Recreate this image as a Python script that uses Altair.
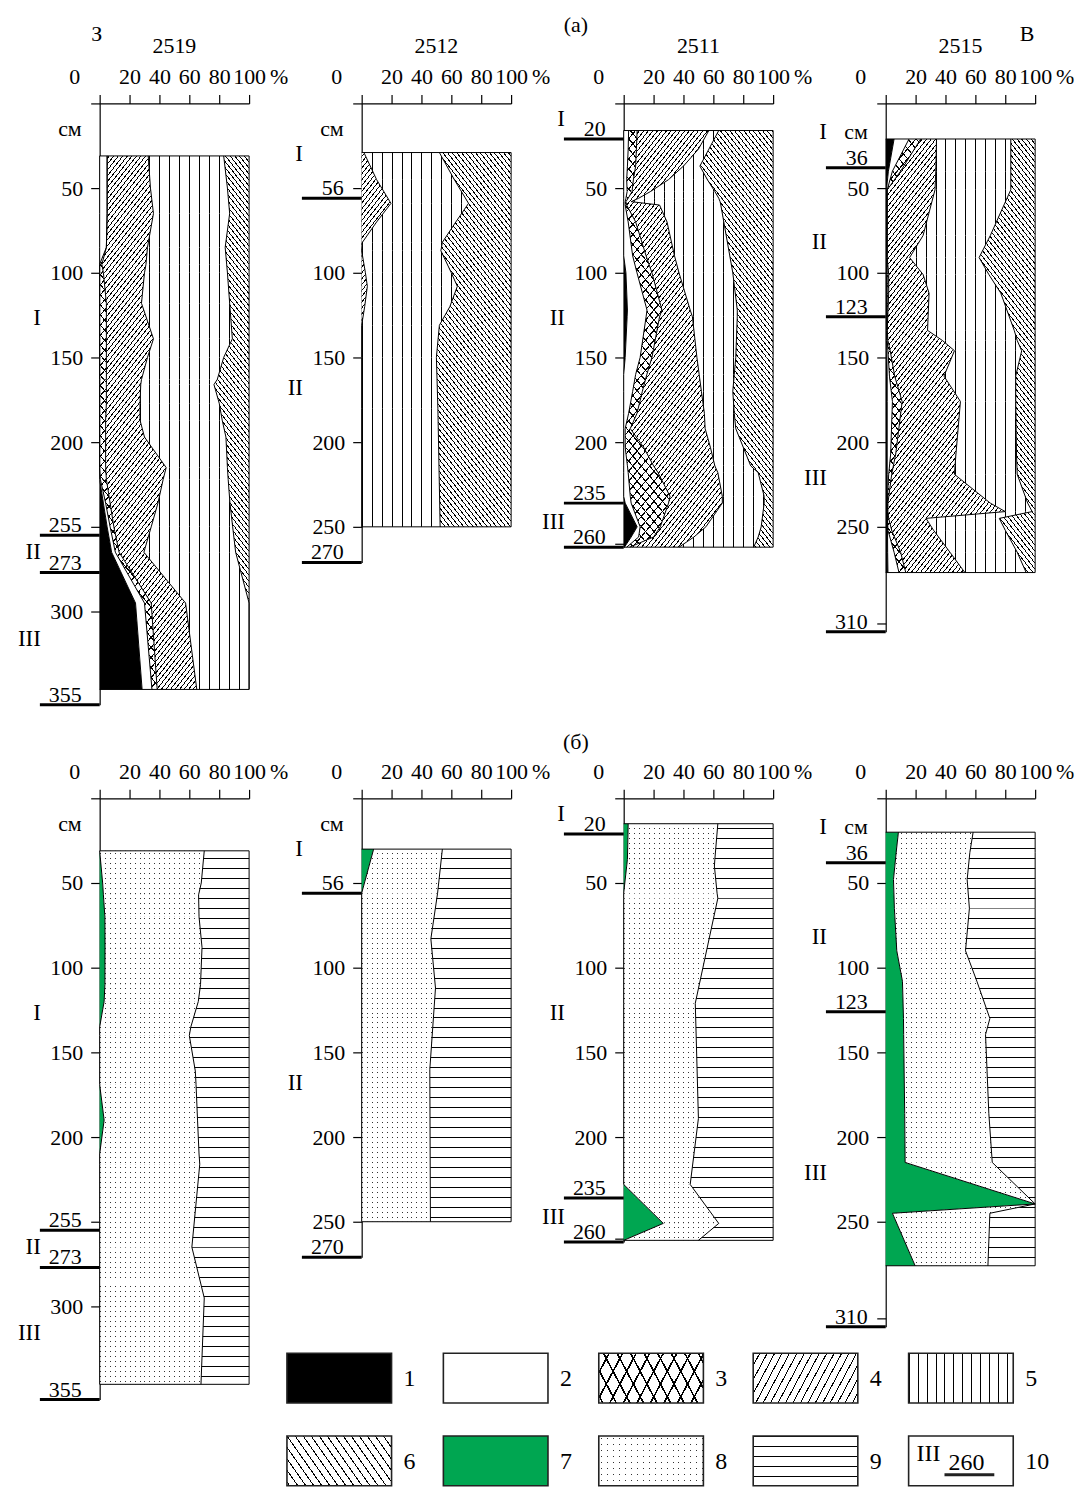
import math
import altair as alt
import pandas as pd

FONT = "Liberation Serif"
FS = 22
PXX = 1.5      # px per %
PXY = 1.7      # px per cm
PW = 150
GREEN = "#00a651"
CLEAR = "rgba(255,255,255,0)"

# ---------------- (а) cumulative boundaries of components 1..5 (% from left) ----------------
a2519_depth = [31, 50, 65, 85, 95, 100, 118, 139, 150, 163, 166, 177, 187, 197, 215, 222, 236, 250, 265, 295, 346]
a2519_b1 = [0, 0, 0, 0, 0, 0, 0, 0, 0, 0, 0, 0, 0, 0, 0, 0, 2.5, 5, 8, 24, 28.4]
a2519_b2 = [5, 5, 5, 4.5, 0, 0, 0, 0, 0, 0, 0, 0, 0, 0, 0, 0.5, 4, 7, 10.5, 30, 35]
a2519_b3 = [5, 5, 5, 4.5, 1.5, 2.5, 4.5, 4.5, 4.5, 4.5, 4.5, 4.5, 4, 4, 4, 4.5, 7, 9.5, 13, 34.5, 38.5]
a2519_b4 = [32.5, 34, 36, 32, 31, 30, 28, 36, 32, 28, 27.5, 27, 27, 30, 44.5, 42.5, 39, 34.5, 29.6, 57.5, 65]
a2519_b5 = [83, 85.5, 87, 84, 85, 85.5, 87, 88.8, 83, 78.7, 76.5, 80, 82, 84.5, 85.5, 86, 87.2, 89, 91, 100, 100]

a2512_depth = [29, 45, 59, 70, 82, 87, 100, 108, 120, 131, 150, 180, 250]
a2512_b1 = [0, 0, 0, 0, 0, 0, 0, 0, 0, 0, 0, 0, 0]
a2512_b2 = [0, 0, 0, 0, 0, 0, 0, 0, 0, 0, 0, 0, 0]
a2512_b3 = [0, 0, 0, 0, 0, 0, 0, 0, 0, 0, 0, 0, 0]
a2512_b4 = [1.5, 10, 19.6, 10, 0.5, 0, 2.5, 3.8, 2, 0, 0, 0, 0]
a2512_b5 = [52, 62, 71.5, 63, 54, 53, 60, 64, 59, 52, 50, 51, 52.5]

a2511_depth = [16, 27, 37, 45, 52, 56, 58, 60, 70, 90, 100, 122, 126, 150, 160, 170, 183, 192, 203, 214, 218, 232, 236, 250, 256, 262]
a2511_b1 = [0, 0, 0, 0, 0, 0, 0, 0, 0, 0, 1.5, 2.5, 2.3, 1, 0, 0, 0, 0, 0, 0, 0, 0, 1, 9, 5, 0.5]
a2511_b2 = [3.3, 3, 2.5, 2, 2.3, 1.5, 1, 1, 3, 6, 8.9, 15.6, 15, 11, 8, 6, 3.3, 1, 1, 2.5, 3, 4.4, 5, 11, 10, 2]
a2511_b3 = [9, 8.5, 8, 6.5, 5.6, 3, 1.5, 2, 8, 15, 18.9, 25.6, 24, 18.9, 15.5, 12.5, 8.9, 4.4, 13.3, 20, 23, 31, 30, 24.5, 20, 4]
a2511_b4 = [57, 50, 40, 30, 18, 10, 5, 24, 29, 34, 37, 44.5, 46, 49, 50.5, 52, 54, 54.5, 58, 61, 63, 66, 66, 55, 47, 37]
a2511_b5 = [63.6, 57, 51, 56, 61, 63.6, 64.5, 65, 67, 71, 73, 76, 76, 75, 74, 73, 74, 75, 80, 85, 90, 94, 94, 92, 90, 87]

a2515_depth = [21, 40, 51, 78, 91, 101, 112, 134, 140, 146, 161, 176, 207, 219, 236, 241, 245, 252, 265, 277]
a2515_b1 = [5.6, 1.8, 0.5, 0.5, 0.5, 0.5, 0.5, 0.5, 0.5, 0.7, 1, 1, 1, 1, 1, 1.2, 1.2, 1.2, 1.3, 1.5]
a2515_b2 = [15.6, 4.5, 1, 1, 1, 1, 1, 1, 1, 1.5, 2.5, 4.5, 3.3, 2, 1, 1, 1.2, 1.5, 5.6, 8.9]
a2515_b3 = [23.4, 10, 1, 1, 1, 2, 2, 1, 1.5, 3, 6, 11, 6.7, 4, 1.5, 1.5, 2, 4, 10, 13.4]
a2515_b4 = [34, 33.5, 33, 25, 16, 25, 29, 28, 38, 46, 39, 50, 47, 46, 70, 80, 27, 32, 43, 53]
a2515_b5 = [83.7, 83.7, 83.7, 70, 62.5, 69, 77, 86, 88, 91, 87, 87, 87.5, 88, 95, 98, 76, 80, 88, 94]

# ---------------- (б) cumulative boundaries of components 7, 8 ----------------
b2519_depth = [31, 50, 57, 70, 88, 110, 120, 135, 140, 161, 169, 190, 210, 216, 265, 295, 346]
b2519_b7 = [0, 2, 2.5, 3.5, 3.6, 3.5, 3, 0, 0, 0, 0, 3, 0, 0, 0, 0, 0]
b2519_b8 = [70, 68, 66.2, 66.5, 68.5, 67.5, 66, 61, 60, 64, 64.5, 65.5, 66.5, 67, 61.7, 70, 67.8]

b2512_depth = [30, 56, 83, 112, 160, 250]
b2512_b7 = [8, 0, 0, 0, 0, 0]
b2512_b8 = [54, 50.8, 46.3, 49.4, 45.6, 46]

b2511_depth = [15, 36, 40, 56, 59, 121, 189, 228, 251, 261]
b2511_b7 = [3, 2.5, 2, 0, 0, 0, 0, 0, 26.5, 0]
b2511_b8 = [63, 61, 60.7, 62.5, 63, 47.9, 50, 44.5, 63.6, 50]

b2515_depth = [20, 32, 48, 65, 90, 108, 130, 139.5, 186, 215, 239.5, 245, 276]
b2515_b7 = [8.5, 7, 5.2, 5.8, 7.4, 11.2, 11.9, 12, 12.7, 13, 100, 4.5, 19.7]
b2515_b8 = [58.5, 56.3, 54.5, 56, 53.4, 61, 69.7, 66.8, 69, 71.3, 100, 69.7, 68.4]

# ---------------- annotations ----------------
titles = ["2519", "2512", "2511", "2515"]
ymax = [355, 271, 262, 312]
yvals = [[0, 50, 100, 150, 200, 250, 300], [0, 50, 100, 150, 200, 250],
         [0, 50, 100, 150, 200, 260], [0, 50, 100, 150, 200, 250, 307]]
yhide = [[0, 250], [0, 50], [0, 260], [0, 307]]
marker_depth = [[255, 277, 355], [56, 271], [21, 236, 262], [38, 126, 312]]
marker_label = [["255", "273", "355"], ["56", "270"], ["20", "235", "260"], ["36", "123", "310"]]
hor_label = [["I", "II", "III"], ["I", "II"], ["I", "II", "III"], ["I", "II", "III"]]
hor_depth = [[127, 265, 316], [30, 168], [9, 127, 247], [17, 82, 221]]
cm_depth = [15, 15, None, 17]
legend_nums = ["1", "2", "3", "4", "5", "6", "7", "8", "9", "10"]

DUMMY = pd.DataFrame({"v": [0]})


def grad_stripes(bbox, ndeg, period, thick, fg, bg):
    bx, by, w, h = bbox
    a = math.radians(ndeg)
    nx = round(math.cos(a), 12)
    ny = round(math.sin(a), 12)
    corners = [(0.0, 0.0), (w, 0.0), (0.0, h), (w, h)]
    sv = [nx * cx + ny * cy for cx, cy in corners]
    i0 = min(range(4), key=lambda i: sv[i])
    smin, smax = sv[i0], max(sv)
    L = smax - smin
    den = nx * nx * w * w + ny * ny * h * h
    k = L / den
    cx, cy = corners[i0]
    x1 = cx / w if w > 0 else 0.0
    y1 = cy / h if h > 0 else 0.0
    x2 = x1 + k * nx * w
    y2 = y1 + k * ny * h
    base = nx * bx + ny * by
    stops = [(0.0, bg)]
    m = math.floor((smin + base) / period) - 1
    while True:
        s0 = m * period - base
        if s0 > smax:
            break
        s1 = s0 + thick
        o0 = min(max((s0 - smin) / L, 0.0), 1.0)
        o1 = min(max((s1 - smin) / L, 0.0), 1.0)
        if o1 > o0:
            stops += [(o0, bg), (o0, fg), (o1, fg), (o1, bg)]
        m += 1
    stops.append((1.0, bg))
    return {"gradient": "linear", "x1": round(x1, 7), "y1": round(y1, 7),
            "x2": round(x2, 7), "y2": round(y2, 7),
            "stops": [{"offset": round(o, 6), "color": c} for o, c in stops]}


PANEL_PAT = {
    1: ("solid", "black"),
    2: ("solid", "white"),
    3: ("cross", 40, 6.5, 1.1),
    4: ("stripe", 38, 3.6, 0.9),
    5: ("stripe", 0, 10, 1),
    6: ("stripe", -38, 3.7, 0.9),
    7: ("solid", GREEN),
    8: ("dots", 5, 1),
    9: ("stripe", 90, 10, 1),
}
LEGEND_PAT = dict(PANEL_PAT)
LEGEND_PAT.update({3: ("cross", 28, 12.0, 1.6), 4: ("stripe", 28, 6.6, 1.0),
                   5: ("stripe", 0, 9, 1), 6: ("stripe", -35, 6.6, 1.0),
                   8: ("dots", 6, 1), 9: ("stripe", 90, 10, 1)})


def fills(pat, bbox, table):
    p = table[pat]
    if p[0] == "solid":
        return [p[1]]
    if p[0] == "stripe":
        return [grad_stripes(bbox, p[1], p[2], p[3], "black", "white")]
    if p[0] == "cross":
        return [grad_stripes(bbox, p[1], p[2], p[3], "black", "white"),
                grad_stripes(bbox, -p[1], p[2], p[3], "black", CLEAR)]
    if p[0] == "dots":
        return [grad_stripes(bbox, 0, p[1], p[2], "#333333", "white"),
                grad_stripes(bbox, 90, p[1], p[2], CLEAR, "white")]


def ptext(text, x, y, align="center", baseline="middle", size=FS):
    return alt.Chart(DUMMY).mark_text(text=text, align=align, baseline=baseline, font=FONT,
                                      fontSize=size, color="black").encode(
        x=alt.value(x), y=alt.value(y))


def legend_layers():
    layers = []
    boxes = [(-75, 557, 1), (82, 557, 2), (238, 557, 3), (393, 557, 4), (549, 557, 5),
             (-75, 640, 6), (82, 640, 7), (238, 640, 8), (393, 640, 9), (549, 640, 10)]
    for (x0, y0, n), lab in zip(boxes, legend_nums):
        w, h = 105, 50
        if n == 10:
            fl = ["white"]
        else:
            fl = fills(n, (x0, y0, w, h), LEGEND_PAT)
        for j, f in enumerate(fl):
            kw = dict(fill=f, opacity=1)
            if j == len(fl) - 1:
                kw.update(stroke="#222222", strokeWidth=1.6)
            layers.append(alt.Chart(DUMMY).mark_rect(**kw).encode(
                x=alt.value(x0), x2=alt.value(x0 + w), y=alt.value(y0), y2=alt.value(y0 + h)))
        layers.append(ptext(lab, x0 + w + 12, y0 + 26, align="left", size=FS + 2))
        if n == 10:
            layers.append(ptext("III", x0 + 8, y0 + 18, align="left", size=FS + 2))
            layers.append(ptext("260", x0 + 40, y0 + 27, align="left", size=FS + 2))
            layers.append(alt.Chart(DUMMY).mark_rule(color="#222222", strokeWidth=3).encode(
                x=alt.value(x0 + 36), x2=alt.value(x0 + 86), y=alt.value(y0 + 39)))
    return layers


def panel(i, depths, bounds, pats, top_row, extras=None, legend=False, anchor=False):
    n = len(depths)
    ys = alt.Scale(domain=[0, ymax[i]], reverse=True, nice=False, zero=False)
    xs = alt.Scale(domain=[0, 100], nice=False, zero=False)
    hide = "[" + ",".join(str(v) for v in yhide[i]) + "]"
    xaxis = alt.Axis(orient="top", values=[0, 20, 40, 60, 80, 100],
                     labelExpr="datum.value == 0 ? '' : datum.label",
                     tickSize=9, labelPadding=6, labelFont=FONT, labelFontSize=FS,
                     labelColor="black", domainColor="black", tickColor="black",
                     domainWidth=1.2, tickWidth=1.2, grid=False, title=None,
                     labelOverlap=False, labelFlush=False, labelBound=False)
    yaxis = alt.Axis(orient="left", values=yvals[i],
                     labelExpr="indexof(" + hide + ", datum.value) >= 0 ? '' : datum.label",
                     tickSize=9, labelPadding=8, labelFont=FONT, labelFontSize=FS,
                     labelColor="black", domainColor="black", tickColor="black",
                     domainWidth=1.2, tickWidth=1.2, grid=False, title=None,
                     labelOverlap=False, labelFlush=False, labelBound=False)

    def Y():
        return alt.Y("depth:Q", scale=ys, axis=yaxis)

    def X(f):
        return alt.X(f + ":Q", scale=xs, axis=xaxis, stack=None)

    layers = [alt.Chart(pd.DataFrame({"x": [0], "depth": [0]})).mark_point(opacity=0).encode(
        x=X("x"), y=Y())]
    if anchor:
        layers.append(alt.Chart(DUMMY).mark_rect(opacity=0).encode(
            x=alt.value(-92), x2=alt.value(-91), y=alt.value(-93), y2=alt.value(-92)))

    # ---- filled components: split between consecutive sampled depths ----
    for k, pat in enumerate(pats):
        lo, hi = bounds[k], bounds[k + 1]
        if max(h - l for l, h in zip(lo, hi)) <= 0:
            continue
        p = PANEL_PAT[pat]
        if p[0] == "solid":
            sd = alt.Data(values=[{"depth": float(d), "lo": float(l), "hi": float(h)}
                                  for d, l, h in zip(depths, lo, hi)])
            layers.append(alt.Chart(sd).mark_area(orient="horizontal", fill=p[1], opacity=1,
                                                  strokeWidth=0).encode(
                y=Y(), x=X("lo"), x2="hi:Q"))
            continue
        rows = []
        nf = 1
        for s in range(n - 1):
            w0, w1 = hi[s] - lo[s], hi[s + 1] - lo[s + 1]
            if max(w0, w1) <= 0:
                continue
            xmin = min(lo[s], lo[s + 1])
            xmax = max(hi[s], hi[s + 1])
            bbox = (xmin * PXX, depths[s] * PXY, (xmax - xmin) * PXX,
                    (depths[s + 1] - depths[s]) * PXY)
            fl = fills(pat, bbox, PANEL_PAT)
            nf = len(fl)
            for t in (s, s + 1):
                row = {"seg": s, "depth": float(depths[t]), "lo": float(lo[t]), "hi": float(hi[t])}
                for j, f in enumerate(fl):
                    row["g%d" % j] = f
                rows.append(row)
        sd = alt.Data(values=rows)
        for j in range(nf):
            layers.append(alt.Chart(sd).mark_area(orient="horizontal", opacity=1,
                                                  strokeWidth=0).encode(
                y=Y(), x=X("lo"), x2="hi:Q",
                fill=alt.Fill("g%d:N" % j, scale=None, legend=None),
                detail="seg:N"))

    # ---- boundary lines ----
    for k in range(1, len(bounds)):
        b = bounds[k]
        if max(b) <= 0:
            continue
        ld = alt.Data(values=[{"depth": float(d), "b": float(v)} for d, v in zip(depths, b)])
        layers.append(alt.Chart(ld).mark_line(color="black", strokeWidth=1).encode(
            y=Y(), x=X("b"), order=alt.Order("depth:Q")))
    ed = alt.Data(values=[{"depth": float(depths[0]), "l": 0.0, "r": 100.0},
                          {"depth": float(depths[-1]), "l": 0.0, "r": 100.0}])
    layers.append(alt.Chart(ed).mark_rule(color="black", strokeWidth=1).encode(
        y=Y(), x=X("l"), x2="r:Q"))

    mk = pd.DataFrame({"depth": marker_depth[i], "label": marker_label[i]})
    layers.append(alt.Chart(mk).mark_rule(color="black", strokeWidth=3).encode(
        y=Y(), x=alt.value(-60), x2=alt.value(0)))
    layers.append(alt.Chart(mk).mark_text(align="right", baseline="alphabetic", dy=-3, font=FONT,
                                          fontSize=FS, color="black").encode(
        y=Y(), x=alt.value(-18), text="label:N"))
    hz = pd.DataFrame({"depth": hor_depth[i], "label": hor_label[i]})
    layers.append(alt.Chart(hz).mark_text(align="right", baseline="middle", font=FONT,
                                          fontSize=FS + 1, color="black").encode(
        y=Y(), x=alt.value(-59), text="label:N"))
    if cm_depth[i] is not None:
        cm = pd.DataFrame({"depth": [cm_depth[i]], "label": ["см"]})
        layers.append(alt.Chart(cm).mark_text(align="right", baseline="middle", font=FONT,
                                              fontSize=FS, color="black").encode(
            y=Y(), x=alt.value(-18), text="label:N"))
    layers.append(ptext("0", -25, -26))
    layers.append(ptext("%", 171, -26, align="left"))
    if top_row:
        layers.append(ptext(titles[i], 75, -58))
    if extras:
        layers += extras
    if legend:
        layers += legend_layers()
    return alt.layer(*layers).properties(width=PW, height=ymax[i] * PXY)


TOP = [1, 2, 3, 4, 5, 6]
BOT = [7, 8, 9]


def top_bounds(d, b1, b2, b3, b4, b5):
    n = len(d)
    return [[0] * n, b1, b2, b3, b4, b5, [100] * n]


def bot_bounds(d, b7, b8):
    n = len(d)
    return [[0] * n, b7, b8, [100] * n]


panels = [
    panel(0, a2519_depth, top_bounds(a2519_depth, a2519_b1, a2519_b2, a2519_b3, a2519_b4, a2519_b5),
          TOP, True, extras=[ptext("З", -3, -70)], anchor=True),
    panel(1, a2512_depth, top_bounds(a2512_depth, a2512_b1, a2512_b2, a2512_b3, a2512_b4, a2512_b5),
          TOP, True),
    panel(2, a2511_depth, top_bounds(a2511_depth, a2511_b1, a2511_b2, a2511_b3, a2511_b4, a2511_b5),
          TOP, True, extras=[ptext("(а)", -48, -79)]),
    panel(3, a2515_depth, top_bounds(a2515_depth, a2515_b1, a2515_b2, a2515_b3, a2515_b4, a2515_b5),
          TOP, True, extras=[ptext("В", 142, -70)]),
    panel(0, b2519_depth, bot_bounds(b2519_depth, b2519_b7, b2519_b8), BOT, False),
    panel(1, b2512_depth, bot_bounds(b2512_depth, b2512_b7, b2512_b8), BOT, False, legend=True),
    panel(2, b2511_depth, bot_bounds(b2511_depth, b2511_b7, b2511_b8), BOT, False,
          extras=[ptext("(б)", -48, -57)]),
    panel(3, b2515_depth, bot_bounds(b2515_depth, b2515_b7, b2515_b8), BOT, False),
]

chart = alt.concat(*panels, columns=4, spacing={"row": 93.5, "column": 113}, bounds="flush").properties(
    padding={"left": 0, "top": 0, "right": 0, "bottom": 0}
).configure_view(strokeWidth=0)

chart.save("out.html", embed_options={"renderer": "svg", "actions": False})
